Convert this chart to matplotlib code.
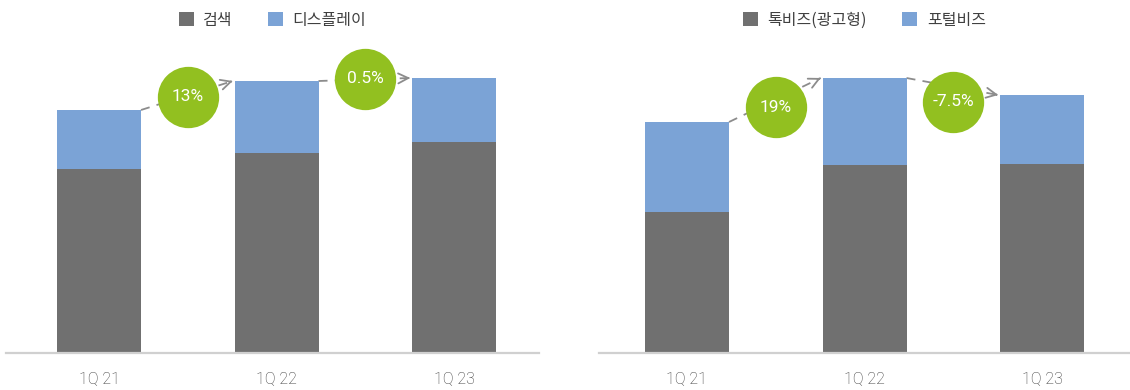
import matplotlib
matplotlib.use("Agg")
import matplotlib.pyplot as plt
from matplotlib.patches import Patch

plt.rcParams['font.family'] = ['Noto Sans CJK KR', 'DejaVu Sans']

quarters = ['1Q 21', '1Q 22', '1Q 23']

# 왼쪽: 검색 / 디스플레이
search = [184, 200, 211]
display = [59, 72, 64]
left_growth = ['13%', '0.5%']

# 오른쪽: 톡비즈(광고형) / 포털비즈
talkbiz = [141, 188, 189]
portalbiz = [90, 87, 69]
right_growth = ['19%', '-7.5%']

DARK = '#707070'
BLUE = '#7BA3D6'
GREEN = '#92C020'

W, H = 1130, 390
fig = plt.figure(figsize=(W / 100, H / 100), dpi=100)

base_px, top_px = 353, 30
bw = 84 / 177.5


def panel(x0, x1, first_off, s1, s2, names, growth, bubble_shift):
    ax = fig.add_axes([x0 / W, (H - base_px) / H, (x1 - x0) / W, (base_px - top_px) / H])
    span = x1 - x0
    unit = 177.5
    ax.set_xlim(-first_off / unit, (span - first_off) / unit)
    ax.set_ylim(0, base_px - top_px)
    x = list(range(len(quarters)))
    ax.bar(x, s1, width=bw, color=DARK, zorder=2)
    ax.bar(x, s2, width=bw, bottom=s1, color=BLUE, zorder=2)
    tops = [a + b for a, b in zip(s1, s2)]

    for i, g in enumerate(growth):
        xs, ys = i + bw / 2, tops[i]
        xe, ye = i + 1 - bw / 2 - 0.01, tops[i + 1]
        ax.plot([xs, xe], [ys, ye], color='#8C8C8C', lw=1.3, ls=(0, (5, 4)), zorder=1)
        dx, dy = xe - xs, ye - ys
        ax.annotate('', xy=(xe, ye), xytext=(xe - dx * 0.02, ye - dy * 0.02),
                    arrowprops=dict(arrowstyle='->', color='#8C8C8C', lw=1.3,
                                    mutation_scale=18, shrinkA=0, shrinkB=0), zorder=1)
        cx, cy = i + 0.5, (tops[i] + tops[i + 1]) / 2 + bubble_shift[i]
        ax.scatter([cx], [cy], s=1950, color=GREEN, zorder=3, linewidths=0)
        ax.text(cx, cy, g, ha='center', va='center', color='white', fontsize=12.5,
                family=['Roboto', 'DejaVu Sans'], zorder=4)

    for s in ['top', 'right', 'left']:
        ax.spines[s].set_visible(False)
    ax.spines['bottom'].set_color('#D0D0D0')
    ax.spines['bottom'].set_linewidth(1.6)
    ax.set_yticks([])
    ax.set_xticks(x)
    ax.set_xticklabels(quarters, fontsize=11.5, color='#333333',
                       family=['Roboto', 'DejaVu Sans'], fontweight='light')
    ax.tick_params(axis='x', length=0, pad=13)

    handles = [Patch(facecolor=DARK, label=names[0]), Patch(facecolor=BLUE, label=names[1])]
    ax.legend(handles=handles, loc='center', bbox_to_anchor=(0.5, 1.03), ncol=2,
              frameon=False, fontsize=11.5, handlelength=0.95, handleheight=0.95,
              handletextpad=0.6, columnspacing=2.2, labelcolor='#404040')
    return ax


panel(6, 539, 93, search, display, ['검색', '디스플레이'], left_growth, [-1, 1])
panel(599, 1130, 88, talkbiz, portalbiz, ['톡비즈(광고형)', '포털비즈'], right_growth, [-7, -15])

fig.savefig('out.png', dpi=100)
